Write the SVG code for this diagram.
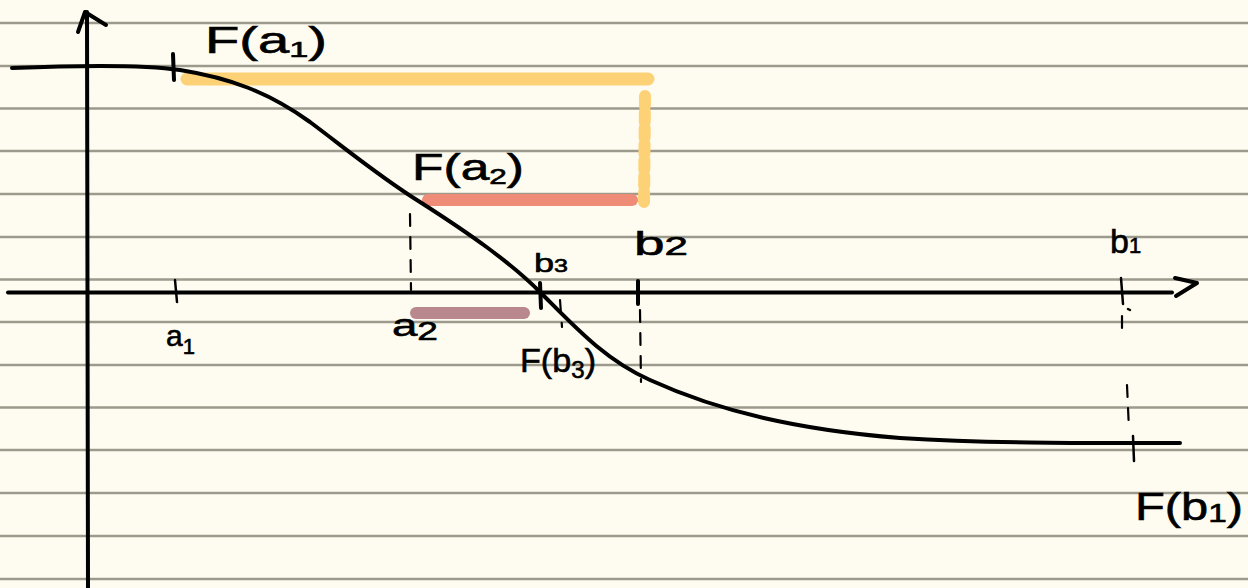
<svg xmlns="http://www.w3.org/2000/svg" width="1248" height="588" viewBox="0 0 1248 588">
<style>
.rule{stroke:#9b9a8c;stroke-width:2.5}
.ink{fill:none;stroke:#000;stroke-width:4;stroke-linecap:round;stroke-linejoin:round}
.thin{fill:none;stroke:#000;stroke-width:2.5;stroke-linecap:round}
.dash{fill:none;stroke:#000;stroke-width:2.2;stroke-linecap:round;stroke-dasharray:12 11}
.lbl{font-family:"Liberation Sans",Arial,sans-serif;fill:#000;stroke:#000;stroke-width:0.6}
.bar{fill:none;stroke-linecap:round}
</style>
<rect width="1248" height="588" fill="#fefcf0"/>
<g id="paper">
<line class="rule" x1="0" y1="23" x2="1248" y2="23"/>
<line class="rule" x1="0" y1="66" x2="1248" y2="66"/>
<line class="rule" x1="0" y1="108.5" x2="1248" y2="108.5"/>
<line class="rule" x1="0" y1="151" x2="1248" y2="151"/>
<line class="rule" x1="0" y1="194" x2="1248" y2="194"/>
<line class="rule" x1="0" y1="237" x2="1248" y2="237"/>
<line class="rule" x1="0" y1="279.5" x2="1248" y2="279.5"/>
<line class="rule" x1="0" y1="322" x2="1248" y2="322"/>
<line class="rule" x1="0" y1="365" x2="1248" y2="365"/>
<line class="rule" x1="0" y1="407.5" x2="1248" y2="407.5"/>
<line class="rule" x1="0" y1="450" x2="1248" y2="450"/>
<line class="rule" x1="0" y1="493" x2="1248" y2="493"/>
<line class="rule" x1="0" y1="536" x2="1248" y2="536"/>
<line class="rule" x1="0" y1="579" x2="1248" y2="579"/>
</g>
<g id="bars">
<line class="bar" x1="187" y1="79" x2="648" y2="79" stroke="#fdd277" stroke-width="13"/>
<line class="bar" x1="645" y1="96" x2="644" y2="204" stroke="#fdd277" stroke-width="12" stroke-dasharray="10 6"/>
<line class="bar" x1="428" y1="200" x2="632" y2="200" stroke="#ef8c78" stroke-width="12"/>
<line class="bar" x1="416" y1="313" x2="524" y2="313" stroke="#b9878e" stroke-width="12"/>
</g>
<g id="connectors">
<path class="ink" d="M88,588 L87,12"/>
<path class="ink" d="M78,32 L85,12 L106,25"/>
<path class="ink" d="M8,292.5 L1172,292.5"/>
<path class="ink" d="M1175,278 L1197,283 L1176,296"/>
<path class="ink" d="M12,68 C60,66 140,64 180,70 C230,78 268,92 310,122 C350,152 380,177 420,202 C470,234 510,262 540,292 C575,327 605,360 650,380 C720,412 800,430 900,438 C1000,444 1100,443 1180,443"/>
</g>
<g id="ticks">
<path class="ink" d="M173,54 L174,80"/>
<path class="thin" d="M175,280 L177,302"/>
<path class="ink" d="M540,283 L541,308"/>
<path class="ink" d="M638,281 L638,304"/>
<path class="thin" d="M1121,278 L1123,304 M1128,309 L1130,310"/>
<path class="thin" d="M1133,436 L1134,461"/>
<path class="dash" d="M410,214 L411,290"/>
<path class="dash" d="M560,300 L562,327"/>
<path class="dash" d="M640,310 L641,382"/>
<path class="dash" d="M1122,316 L1122,336"/>
<path class="dash" d="M1127,385 L1129,430"/>
</g>
<g id="label-Fa1"><text class="lbl" x="205" y="53" font-size="36" textLength="122" lengthAdjust="spacingAndGlyphs">F(a<tspan font-size="22" dy="4">1</tspan><tspan dy="-4">)</tspan></text></g>
<g id="label-Fa2"><text class="lbl" x="412" y="180" font-size="36" textLength="112" lengthAdjust="spacingAndGlyphs">F(a<tspan font-size="22" dy="4">2</tspan><tspan dy="-4">)</tspan></text></g>
<g id="label-b3"><text class="lbl" x="534" y="272" font-size="26" textLength="34" lengthAdjust="spacingAndGlyphs">b<tspan font-size="18">3</tspan></text></g>
<g id="label-b2"><text class="lbl" x="634" y="255" font-size="34" textLength="54" lengthAdjust="spacingAndGlyphs">b<tspan font-size="26">2</tspan></text></g>
<g id="label-b1"><text class="lbl" x="1110" y="253" font-size="34">b<tspan font-size="22">1</tspan></text></g>
<g id="label-a1"><text class="lbl" x="166" y="346" font-size="30">a<tspan font-size="22" dy="8">1</tspan></text></g>
<g id="label-a2"><text class="lbl" x="392" y="336" font-size="32" textLength="46" lengthAdjust="spacingAndGlyphs">a<tspan font-size="26" dy="4">2</tspan></text></g>
<g id="label-Fb3"><text class="lbl" x="520" y="372" font-size="34" textLength="76" lengthAdjust="spacingAndGlyphs">F(b<tspan font-size="24" dy="6">3</tspan><tspan dy="-6">)</tspan></text></g>
<g id="label-Fb1"><text class="lbl" x="1135" y="520" font-size="38" textLength="108" lengthAdjust="spacingAndGlyphs">F(b<tspan font-size="26" dy="2">1</tspan><tspan dy="-2">)</tspan></text></g>
</svg>
